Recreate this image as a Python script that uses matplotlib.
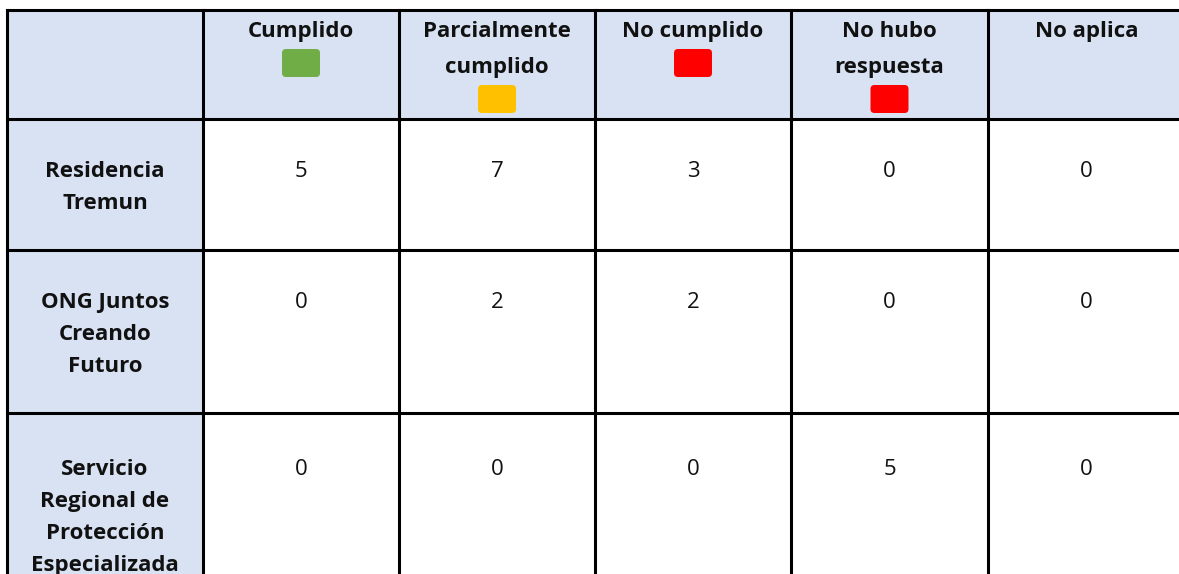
import matplotlib
matplotlib.use("Agg")
import matplotlib.pyplot as plt
from matplotlib.patches import Rectangle, FancyBboxPatch

# ---- data ----
col_labels = ["Cumplido", "Parcialmente\ncumplido", "No cumplido", "No hubo\nrespuesta", "No aplica"]
col_colors = ["#70AD47", "#FFC000", "#FF0000", "#FF0000", None]
row_labels = ["Residencia\nTremun", "ONG Juntos\nCreando\nFuturo",
              "Servicio\nRegional de\nProtección\nEspecializada"]
values = [
    [5, 7, 3, 0, 0],
    [0, 2, 2, 0, 0],
    [0, 0, 0, 5, 0],
]

# ---- layout (pixel units) ----
W, H = 1179, 574
x_edges = [7, 203, 399, 595, 791, 988, 1185]
y_edges = [10, 119, 250, 413, 616]
header_fill = "#D9E2F3"
line_w = 2.2
font = "Open Sans"
fs = 16
hdr_base, hdr_step = 37, 36
lbl_step = 32

fig = plt.figure(figsize=(W / 100, H / 100), dpi=100)
ax = fig.add_axes([0, 0, 1, 1])
ax.set_xlim(0, W)
ax.set_ylim(H, 0)
ax.axis("off")

# fills
ax.add_patch(Rectangle((x_edges[0], y_edges[0]), x_edges[-1] - x_edges[0],
                       y_edges[1] - y_edges[0], facecolor=header_fill, edgecolor="none"))
ax.add_patch(Rectangle((x_edges[0], y_edges[1]), x_edges[1] - x_edges[0],
                       y_edges[-1] - y_edges[1], facecolor=header_fill, edgecolor="none"))

# grid lines
ax.hlines(y_edges, x_edges[0], x_edges[-1], colors="black", linewidth=line_w, capstyle="projecting")
ax.vlines(x_edges, y_edges[0], y_edges[-1], colors="black", linewidth=line_w, capstyle="projecting")

# header
for j, (lab, colr) in enumerate(zip(col_labels, col_colors)):
    cx = (x_edges[j + 1] + x_edges[j + 2]) / 2
    lines = lab.split("\n")
    for k, ln in enumerate(lines):
        ax.text(cx, hdr_base + k * hdr_step, ln, ha="center", va="baseline",
                fontsize=fs, fontweight="bold", family=font, color="#111111")
    if colr:
        top = hdr_base + (len(lines) - 1) * hdr_step + 12
        ax.add_patch(FancyBboxPatch((cx - 19, top), 38, 28,
                                    boxstyle="round,pad=0,rounding_size=4",
                                    facecolor=colr, edgecolor="none"))

# rows
for i, lab in enumerate(row_labels):
    y0, y1 = y_edges[i + 1], y_edges[i + 2]
    cy = (y0 + y1) / 2
    lines = lab.split("\n")
    n = len(lines)
    cx = (x_edges[0] + x_edges[1]) / 2
    bases = [cy + 8.5 + (k - (n - 1) / 2) * lbl_step for k in range(n)]
    for ln, b in zip(lines, bases):
        ax.text(cx, b, ln, ha="center", va="baseline", fontsize=fs,
                fontweight="bold", family=font, color="#111111")
    for j, v in enumerate(values[i]):
        vx = (x_edges[j + 1] + x_edges[j + 2]) / 2
        ax.text(vx, bases[0], str(v), ha="center", va="baseline", fontsize=fs,
                family=font, color="#111111")

fig.savefig("out.png", dpi=100)
